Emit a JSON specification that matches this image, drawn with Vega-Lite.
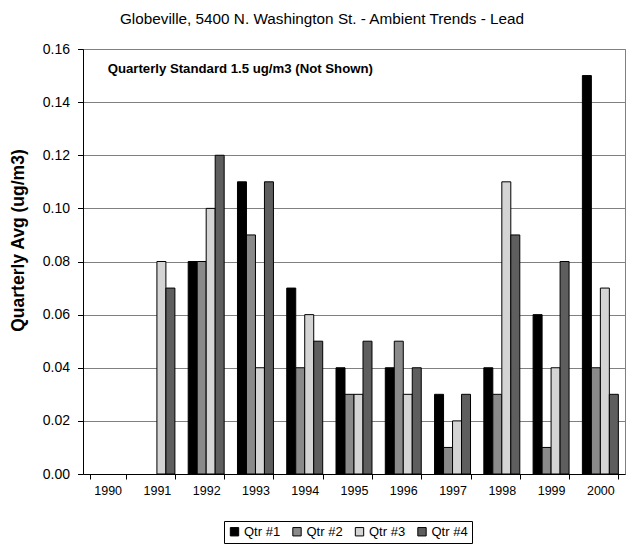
{
  "$schema": "https://vega.github.io/schema/vega-lite/v6.json",
  "autosize": "none",
  "width": 542,
  "height": 425,
  "padding": {"left": 83, "top": 49, "right": 4, "bottom": 79},
  "background": "white",
  "title": {
    "text": "Globeville, 5400 N. Washington St. - Ambient Trends - Lead",
    "font": "Liberation Sans",
    "fontSize": 15.3,
    "fontWeight": "normal",
    "color": "#000000",
    "anchor": "middle",
    "dx": -32,
    "offset": 15
  },
  "config": {
    "font": "Liberation Sans",
    "view": {"stroke": "#808080", "strokeWidth": 1},
    "axis": {"labelColor": "#000000", "titleColor": "#000000", "domainColor": "#000000", "tickColor": "#000000"}
  },
  "data": {
    "values": [
      {"year": "1991", "quarter": "Qtr #3", "value": 0.08},
      {"year": "1991", "quarter": "Qtr #4", "value": 0.07},
      {"year": "1992", "quarter": "Qtr #1", "value": 0.08},
      {"year": "1992", "quarter": "Qtr #2", "value": 0.08},
      {"year": "1992", "quarter": "Qtr #3", "value": 0.10},
      {"year": "1992", "quarter": "Qtr #4", "value": 0.12},
      {"year": "1993", "quarter": "Qtr #1", "value": 0.11},
      {"year": "1993", "quarter": "Qtr #2", "value": 0.09},
      {"year": "1993", "quarter": "Qtr #3", "value": 0.04},
      {"year": "1993", "quarter": "Qtr #4", "value": 0.11},
      {"year": "1994", "quarter": "Qtr #1", "value": 0.07},
      {"year": "1994", "quarter": "Qtr #2", "value": 0.04},
      {"year": "1994", "quarter": "Qtr #3", "value": 0.06},
      {"year": "1994", "quarter": "Qtr #4", "value": 0.05},
      {"year": "1995", "quarter": "Qtr #1", "value": 0.04},
      {"year": "1995", "quarter": "Qtr #2", "value": 0.03},
      {"year": "1995", "quarter": "Qtr #3", "value": 0.03},
      {"year": "1995", "quarter": "Qtr #4", "value": 0.05},
      {"year": "1996", "quarter": "Qtr #1", "value": 0.04},
      {"year": "1996", "quarter": "Qtr #2", "value": 0.05},
      {"year": "1996", "quarter": "Qtr #3", "value": 0.03},
      {"year": "1996", "quarter": "Qtr #4", "value": 0.04},
      {"year": "1997", "quarter": "Qtr #1", "value": 0.03},
      {"year": "1997", "quarter": "Qtr #2", "value": 0.01},
      {"year": "1997", "quarter": "Qtr #3", "value": 0.02},
      {"year": "1997", "quarter": "Qtr #4", "value": 0.03},
      {"year": "1998", "quarter": "Qtr #1", "value": 0.04},
      {"year": "1998", "quarter": "Qtr #2", "value": 0.03},
      {"year": "1998", "quarter": "Qtr #3", "value": 0.11},
      {"year": "1998", "quarter": "Qtr #4", "value": 0.09},
      {"year": "1999", "quarter": "Qtr #1", "value": 0.06},
      {"year": "1999", "quarter": "Qtr #2", "value": 0.01},
      {"year": "1999", "quarter": "Qtr #3", "value": 0.04},
      {"year": "1999", "quarter": "Qtr #4", "value": 0.08},
      {"year": "2000", "quarter": "Qtr #1", "value": 0.15},
      {"year": "2000", "quarter": "Qtr #2", "value": 0.04},
      {"year": "2000", "quarter": "Qtr #3", "value": 0.07},
      {"year": "2000", "quarter": "Qtr #4", "value": 0.03}
    ]
  },
  "layer": [
    {
      "mark": {"type": "bar", "stroke": "#000000", "strokeWidth": 1},
      "encoding": {
        "x": {
          "field": "year",
          "type": "nominal",
          "scale": {
            "domain": ["1990", "1991", "1992", "1993", "1994", "1995", "1996", "1997", "1998", "1999", "2000"],
            "paddingInner": 0.27,
            "paddingOuter": 0.135
          },
          "axis": {
            "title": null,
            "labelAngle": 0,
            "labelFontSize": 12.5,
            "labelPadding": 5,
            "tickSize": 5,
            "tickBand": "extent",
            "domainWidth": 1,
            "grid": false
          }
        },
        "xOffset": {
          "field": "quarter",
          "type": "nominal",
          "scale": {"domain": ["Qtr #1", "Qtr #2", "Qtr #3", "Qtr #4"], "paddingInner": 0, "paddingOuter": 0}
        },
        "y": {
          "field": "value",
          "type": "quantitative",
          "scale": {"domain": [0, 0.16], "nice": false},
          "axis": {
            "title": "Quarterly Avg (ug/m3)",
            "titleFontSize": 17.5,
            "titleFontWeight": "bold",
            "titlePadding": 15,
            "titleY": 191,
            "values": [0, 0.02, 0.04, 0.06, 0.08, 0.1, 0.12, 0.14, 0.16],
            "format": ".2f",
            "labelFontSize": 14,
            "labelPadding": 8,
            "tickSize": 5.5,
            "grid": true,
            "gridColor": "#808080",
            "gridWidth": 1,
            "gridOpacity": 1
          }
        },
        "fill": {
          "field": "quarter",
          "type": "nominal",
          "scale": {
            "domain": ["Qtr #1", "Qtr #2", "Qtr #3", "Qtr #4"],
            "range": ["#000000", "#8a8a8a", "#d4d4d4", "#5e5e5e"]
          },
          "legend": {
            "title": null,
            "orient": "none",
            "direction": "horizontal",
            "legendX": 141,
            "legendY": 472,
            "symbolType": "square",
            "symbolSize": 70,
            "symbolStrokeColor": "#000000",
            "symbolStrokeWidth": 1,
            "symbolOpacity": 1,
            "labelFontSize": 13,
            "labelColor": "#000000",
            "labelOffset": 3,
            "columnPadding": 9.5,
            "padding": 4,
            "strokeColor": "#000000",
            "fillColor": "#ffffff"
          }
        }
      }
    },
    {
      "data": {"values": [{}]},
      "mark": {
        "type": "text",
        "text": "Quarterly Standard 1.5 ug/m3 (Not Shown)",
        "align": "left",
        "baseline": "middle",
        "fontSize": 13.2,
        "fontWeight": "bold",
        "color": "#000000"
      },
      "encoding": {
        "x": {"datum": "1990"},
        "y": {"datum": 0.1525}
      }
    }
  ]
}
